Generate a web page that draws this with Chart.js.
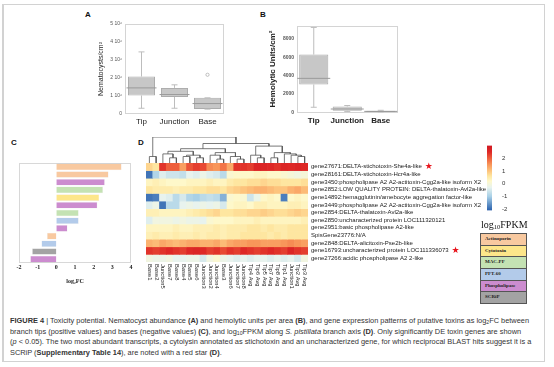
<!DOCTYPE html>
<html>
<head>
<meta charset="utf-8">
<script src="https://cdn.jsdelivr.net/npm/chart.js@4.4.1/dist/chart.umd.min.js"></script>
<style>
body { margin: 0; background: #fff; font-family: "Liberation Sans", Arial, sans-serif; }
#fig { position: relative; width: 554px; height: 367px; overflow: hidden; }
.frame { position: absolute; left: 2px; top: 4px; width: 540px; height: 356px; border: 1px solid #d2d2d2; border-left: 2px solid #d2d2d2; }
canvas { position: absolute; }
.pl { position: absolute; font-weight: bold; font-size: 8px; color: #111; }
.fpkm { position: absolute; left: 481px; top: 219px; font-family: "Liberation Serif", serif; font-size: 10px; color: #111; }
.fpkm sub { font-size: 65%; vertical-align: -0.15em; line-height: 0; }
.leg { position: absolute; left: 480px; top: 233px; width: 47px; }
.leg div { height: 10.7px; border: 1px solid #555; border-bottom: none; font-family: "Liberation Serif", serif; font-weight: bold; font-size: 5px; line-height: 10.7px; padding-left: 4px; color: #222; }
.leg div:last-child { border-bottom: 1px solid #555; }
.cap { position: absolute; left: 10px; top: 316px; font-size: 7.4px; line-height: 10.6px; color: #333; white-space: nowrap; }
.cap sub { font-size: 70%; vertical-align: -0.2em; line-height: 0; }
</style>
</head>
<body>
<div id="fig">
  <div class="frame"></div>
  <div class="pl" style="left:85px;top:10px">A</div>
  <div class="pl" style="left:260px;top:10px">B</div>
  <div class="pl" style="left:11px;top:138px">C</div>
  <div class="pl" style="left:138px;top:138px">D</div>

  <canvas id="cA" width="143" height="122" style="left:97px;top:8px"></canvas>
  <canvas id="cB" width="147" height="122" style="left:268px;top:8px"></canvas>
  <canvas id="cC" width="130" height="135" style="left:5px;top:150px"></canvas>
  <canvas id="cDen" width="180" height="32" style="left:140px;top:132px"></canvas>
  <canvas id="cD" width="352" height="155" style="left:140px;top:155px"></canvas>
  <canvas id="cBar" width="36" height="92" style="left:478px;top:132px"></canvas>

  <div class="fpkm">log<sub>10</sub>FPKM</div>
  <div class="leg" id="leg"></div>

  <div class="cap">
<b>FIGURE 4</b> | Toxicity potential. Nematocyst abundance <b>(A)</b> and hemolytic units per area <b>(B)</b>, and gene expression patterns of putative toxins as log<sub>2</sub>FC between<br>
branch tips (positive values) and bases (negative values) <b>(C)</b>, and log<sub>10</sub>FPKM along <i>S. pistillata</i> branch axis <b>(D)</b>. Only significantly DE toxin genes are shown<br>
(<i>p</i> &lt; 0.05). The two most abundant transcripts, a cytolysin annotated as stichotoxin and an uncharacterized gene, for which reciprocal BLAST hits suggest it is a<br>
SCRiP (<b>Supplementary Table 14</b>), are noted with a red star <b>(D)</b>.
  </div>
</div>

<script>
// ---- data ----
const boxCats = ['Tip', 'Junction', 'Base'];
// [min, q1, median, q3, max]
const nemaStats = [
  [0.32e6, 1.03e6, 1.45e6, 2.08e6, 3.45e6],
  [0.32e6, 0.95e6, 1.08e6, 1.45e6, 1.62e6],
  [0.27e6, 0.28e6, 0.58e6, 0.90e6, 0.90e6]
];
const nemaOutliers = [[], [], [2.18e6]];
const nemaTicks = [0, 1e6, 2e6, 3e6, 4e6, 5e6];

const hemoStats = [
  [570, 3050, 3710, 6290, 9240],
  [100, 190, 380, 650, 760],
  [40, 60, 120, 200, 240]
];
const hemoTicks = [0, 2000, 4000, 6000, 8000];

const families = ['Actinoporin', 'Cytotoxin', 'MAC-PF', 'PFT-60', 'Phospholipase', 'SCRiP'];
const familyColors = ['#f8c9a0', '#fde68a', '#c4e2b3', '#b3cbea', '#cc8ccf', '#a3a3a3'];

const fcValues = [3.5, 2.8, 2.6, 2.5, 2.3, 2.2, 1.2, 1.2, 0.6, -0.5, -0.8, -1.3, -1.4];
const fcFamily = [0, 0, 4, 2, 1, 4, 2, 3, 4, 0, 3, 5, 4];
const fcTicks = [-2, -1, 0, 1, 2, 3, 4];

const columns = ['Base1', 'Base2', 'Junction5', 'Base7', 'Base8', 'Base4', 'Base5', 'Base6',
  'Junction3', 'Junction2', 'Junction4', 'Base3', 'Junction6', 'Junction7', 'Junction8',
  'Tip4 Avg', 'Tip6 Avg', 'Tip5 Avg', 'Tip7 Avg', 'Tip8 Avg', 'Tip1 Avg', 'Junction1', 'Tip2 Avg', 'Tip3 Avg'];

const genes = [
  'gene27671:DELTA-stichotoxin-She4a-like',
  'gene28161:DELTA-stichotoxin-Hcr4a-like',
  'gene3450:phospholipase A2 A2-actitoxin-Cgg2a-like isoform X2',
  'gene2852:LOW QUALITY PROTEIN: DELTA-thalatoxin-Avl2a-like',
  'gene14892:hemagglutinin/amebocyte aggregation factor-like',
  'gene3449:phospholipase A2 A2-actitoxin-Cgg2a-like isoform X2',
  'gene2854:DELTA-thalatoxin-Avl2a-like',
  'gene2850:uncharacterized protein LOC111320121',
  'gene2951:basic phospholipase A2-like',
  'SpisGene23776:N/A',
  'gene2848:DELTA-alicitoxin-Pse2b-like',
  'gene16793:uncharacterized protein LOC111336073',
  'gene27266:acidic phospholipase A2 2-like'
];
const starred = [0, 11];

// log10 FPKM, one row per gene, one value per column
const expr = [
  [0.8, 0.6, 2.4, 2.0, 2.0, 1.4, 2.1, 2.3, 2.2, 1.6, 1.5, 1.8, 1.3, 2.4, 2.4, 2.3, 2.6, 2.6, 2.5, 2.4, 2.6, 2.5, 2.6, 2.5],
  [-1.9, -0.9, -0.4, -0.6, -0.6, -0.7, -0.3, -0.4, -0.2, -0.4, -0.5, -0.8, 0.1, 0.2, 0.2, 0.2, 0.3, 0.3, 0.2, 0.2, 0.1, 0.0, -0.1, 0.0],
  [0.3, 0.4, 0.3, 0.2, 0.2, 0.2, 0.3, 0.3, 0.3, 0.4, 0.3, 0.3, 0.5, 0.6, 0.6, 0.7, 0.7, 0.8, 0.7, 0.7, 0.6, 0.6, 0.6, 0.7],
  [0.6, 0.5, 0.5, 0.5, 0.4, 0.5, 0.5, 0.6, 0.6, 0.7, 0.7, 0.6, 0.8, 0.9, 1.0, 1.1, 1.2, 1.2, 1.1, 1.0, 1.0, 1.2, 1.3, 1.1],
  [-1.9, -1.8, -0.3, -0.4, -0.8, -0.5, -0.9, -1.0, -0.8, -0.7, -0.8, -1.3, 0.1, 0.2, 0.1, -0.6, -0.2, 0.2, 0.3, 0.2, -1.8, 0.2, 0.3, 0.2],
  [-0.4, -0.2, -1.9, -0.8, -0.8, -0.3, -0.2, -0.3, -0.2, -0.3, -0.2, -0.5, 0.2, 0.3, 0.3, 0.2, 0.4, 0.4, 0.3, 0.3, 0.3, 0.4, 0.4, 0.3],
  [0.4, 0.4, 0.3, 0.3, 0.3, 0.3, 0.4, 0.5, 0.6, 0.7, 0.8, 0.6, 0.6, 0.7, 0.7, 0.8, 0.8, 0.9, 0.8, 0.7, 0.7, 0.8, 0.9, 0.8],
  [-0.4, -0.1, -0.1, -0.1, -0.2, -0.1, -0.2, -0.2, -0.3, 0.1, 0.2, 0.2, 0.2, 0.3, 0.3, 0.3, 0.4, 0.3, 0.3, 0.3, 0.3, 0.3, 0.3, 0.4],
  [0.3, 0.3, 0.3, 0.3, 0.4, 0.3, 0.3, 0.4, 0.4, 0.4, 0.5, 0.4, 0.5, 0.5, 0.5, 0.6, 0.6, 0.5, 0.6, 0.5, 0.5, 0.6, 0.6, 0.6],
  [0.4, 0.5, 0.4, 0.4, 0.5, 0.4, 0.4, 0.5, 0.4, 0.5, 0.5, 0.4, 0.5, 0.5, 0.6, 0.6, 0.6, 0.6, 0.5, 0.6, 0.5, 0.6, 0.6, 0.6],
  [1.2, 1.1, 1.3, 1.2, 1.1, 1.2, 1.3, 1.3, 1.2, 1.2, 1.3, 1.1, 1.3, 1.4, 1.4, 1.5, 1.5, 1.4, 1.4, 1.4, 1.5, 1.6, 1.5, 1.4],
  [2.4, 2.3, 2.4, 2.5, 2.4, 2.3, 2.5, 2.6, 2.5, 2.3, 2.4, 2.2, 2.4, 2.3, 2.5, 2.4, 2.3, 2.4, 2.5, 2.4, 2.3, 2.6, 2.4, 2.3],
  [-0.1, -0.2, -0.2, -0.1, -0.3, -0.3, -0.2, -0.2, -0.5, -0.1, 0.1, -0.2, -0.3, -0.4, -0.3, -0.4, -0.3, -0.3, -0.4, -0.3, -0.4, -0.3, -0.5, -0.1]
];

// column dendrogram: leaves are column indices, h = merge height
const dendro = {h: 10, c: [
  {h: 2.5, c: [0, 1]},
  {h: 7.5, c: [
    {h: 5.5, c: [
      {h: 4.5, c: [{h: 3.5, c: [2, {h: 2, c: [3, 4]}]}, {h: 3, c: [{h: 2.5, c: [5, 6]}, {h: 2, c: [7, 8]}]}]},
      {h: 4, c: [{h: 3, c: [9, {h: 1.5, c: [10, 11]}]}, {h: 2.5, c: [12, {h: 1.5, c: [13, 14]}]}]}
    ]},
    {h: 6.5, c: [
      {h: 3, c: [15, {h: 2, c: [16, 17]}]},
      {h: 4, c: [{h: 2, c: [18, 19]}, {h: 3.5, c: [20, {h: 3, c: [21, {h: 2.5, c: [22, 23]}]}]}]}
    ]}
  ]}
]};

const cbMin = -2.1, cbMax = 3.0;
const cbTicks = [-2, -1, 0, 1, 2];

// ---- helpers ----
Chart.defaults.font.family = '"Liberation Sans", Arial, sans-serif';
Chart.defaults.animation = false;
Chart.defaults.plugins.legend.display = false;
Chart.defaults.plugins.tooltip.enabled = false;

const heatStops = [
  [-2.1, [45, 95, 170]], [-2, [52, 106, 178]], [-1, [168, 208, 231]], [-0.3, [232, 243, 238]],
  [0.2, [254, 248, 202]], [0.6, [254, 230, 160]], [1, [253, 196, 125]], [1.5, [248, 150, 90]],
  [2, [238, 95, 60]], [2.5, [222, 40, 38]], [3, [208, 24, 34]]
];
function heatColor(v) {
  if (v <= heatStops[0][0]) return 'rgb(' + heatStops[0][1].join(',') + ')';
  for (let i = 1; i < heatStops.length; i++) {
    const [v1, c1] = heatStops[i];
    if (v <= v1) {
      const [v0, c0] = heatStops[i - 1];
      const t = (v - v0) / (v1 - v0);
      return 'rgb(' + c0.map((a, k) => Math.round(a + (c1[k] - a) * t)).join(',') + ')';
    }
  }
  return 'rgb(' + heatStops[heatStops.length - 1][1].join(',') + ')';
}

const frameBox = {
  id: 'frameBox',
  beforeDatasetsDraw(c, a, o) {
    const {left, top, right, bottom} = c.chartArea;
    const ctx = c.ctx;
    ctx.save();
    ctx.strokeStyle = o.color || '#d0d0d0';
    ctx.lineWidth = 1;
    ctx.strokeRect(Math.round(left) + 0.5, Math.round(top) + 0.5, Math.round(right - left) - 1, Math.round(bottom - top) - 1);
    ctx.restore();
  }
};

function boxChart(id, stats, outliers, ticks, tickFmt, title, titleFont, yMax, yWidth, boxPct, medR) {
  const whisk = [], caps = [], meds = [], outs = [];
  boxCats.forEach((c, i) => {
    const s = stats[i];
    whisk.push({x: c, y: s[0]}, {x: c, y: s[1]}, {x: c, y: null}, {x: c, y: s[3]}, {x: c, y: s[4]}, {x: c, y: null});
    caps.push({x: c, y: s[0]}, {x: c, y: s[4]});
    meds.push({x: c, y: s[2]});
    outliers[i].forEach(v => outs.push({x: c, y: v}));
  });
  return new Chart(document.getElementById(id), {
    type: 'bar',
    data: {
      labels: boxCats,
      datasets: [
        {type: 'line', data: outs, showLine: false, pointRadius: 1.6, pointBorderColor: '#b0b0b0', pointBackgroundColor: '#fff', pointBorderWidth: 0.8, order: 0},
        {type: 'line', data: meds, showLine: false, pointStyle: 'line', pointRadius: medR, pointBorderColor: '#9a9a9a', pointBorderWidth: 1, order: 1},
        {type: 'line', data: caps, showLine: false, pointStyle: 'line', pointRadius: 3, pointBorderColor: '#bdbdbd', pointBorderWidth: 1, order: 2},
        {type: 'line', data: whisk, spanGaps: false, borderColor: '#bdbdbd', borderWidth: 1, pointRadius: 0, order: 3},
        {data: stats.map(s => [s[1], s[3]]), backgroundColor: '#c7c7c7', borderColor: '#ababab', borderWidth: 1,
          borderSkipped: false, barPercentage: boxPct, categoryPercentage: 1, order: 4}
      ]
    },
    options: {
      responsive: false,
      layout: {padding: {top: 6, right: 5, left: 0, bottom: 0}},
      plugins: {frameBox: {color: '#d4d4d4'}},
      scales: {
        x: {grid: {display: false, drawTicks: false}, border: {display: false},
          ticks: {font: {size: 8, weight: titleFont.weight}, color: '#222', padding: 3,
            minRotation: 0, maxRotation: 0, autoSkip: false},
          afterFit: s => { s.height = 16; }},
        y: {min: 0, max: yMax,
          afterBuildTicks: s => { s.ticks = ticks.map(v => ({value: v})); },
          grid: {display: false, drawTicks: false}, border: {display: false},
          ticks: {callback: tickFmt, font: {size: 5, weight: titleFont.weight}, color: '#555', padding: 3},
          title: {display: true, text: title, font: titleFont, color: '#222', padding: 0},
          afterFit: s => { s.width = yWidth; }}
      }
    },
    plugins: [frameBox]
  });
}

// ---- A ----
boxChart('cA', nemaStats, nemaOutliers, nemaTicks,
  v => v === 0 ? '0' : (v / 1e6) + ' 10\u2076', 'Nematocysts/cm\u00b2', {size: 7}, 5e6, 28, 0.82, 15);

// ---- B ----
boxChart('cB', hemoStats, [[], [], []], hemoTicks,
  v => String(v), 'Hemolytic Units/cm\u00b2', {size: 8, weight: 'bold'}, 9450, 29, 0.87, 16.5);

// ---- C ----
new Chart(document.getElementById('cC'), {
  type: 'bar',
  data: {
    labels: fcValues.map((v, i) => 'g' + i),
    datasets: [{
      data: fcValues,
      backgroundColor: fcFamily.map(f => familyColors[f]),
      borderColor: 'rgba(0,0,0,0.08)', borderWidth: 0.5,
      barPercentage: 0.86, categoryPercentage: 1
    }]
  },
  options: {
    responsive: false,
    indexAxis: 'y',
    layout: {padding: {top: 13, right: 4, left: 14, bottom: 0}},
    plugins: {frameBox: {color: '#d8d8d8'}},
    scales: {
      y: {display: false},
      x: {min: -2, max: 4,
        afterBuildTicks: s => { s.ticks = fcTicks.map(v => ({value: v})); },
        grid: {display: false, drawTicks: false}, border: {display: false},
        ticks: {font: {family: '"Liberation Serif", serif', size: 6, weight: 'bold'}, color: '#222', padding: 1},
        title: {display: true, text: 'log\u2082FC', font: {family: '"Liberation Serif", serif', size: 6, weight: 'bold'}, color: '#222', padding: {top: 1, bottom: 0}},
        afterFit: s => { s.height = 22; }}
    }
  },
  plugins: [frameBox]
});

// ---- D: dendrogram ----
const dendroPts = [];
function place(node) {
  if (typeof node === 'number') return {x: node, y: 0};
  const a = place(node.c[0]), b = place(node.c[1]);
  dendroPts.push({x: a.x, y: a.y}, {x: a.x, y: node.h}, {x: b.x, y: node.h}, {x: b.x, y: b.y}, {x: b.x, y: null});
  return {x: (a.x + b.x) / 2, y: node.h};
}
place(dendro);

new Chart(document.getElementById('cDen'), {
  type: 'scatter',
  data: {datasets: [{data: dendroPts, showLine: true, spanGaps: false, borderColor: '#555', borderWidth: 0.8, pointRadius: 0}]},
  options: {
    responsive: false,
    layout: {padding: {left: 6, right: 12, top: 5, bottom: 1}},
    scales: {
      x: {type: 'linear', min: -0.5, max: columns.length - 0.5, display: false},
      y: {type: 'linear', min: 0, max: 10, display: false}
    }
  }
});

// ---- D: heatmap ----
const heatLabels = {
  id: 'heatLabels',
  afterDraw(c) {
    const ctx = c.ctx, xs = c.scales.x, ys = c.scales.y;
    ctx.save();
    ctx.font = '5.8px "Liberation Sans", Arial, sans-serif';
    ctx.fillStyle = '#222';
    ctx.textAlign = 'left';
    ctx.textBaseline = 'middle';
    const y0 = c.chartArea.bottom + 2;
    columns.forEach((lab, i) => {
      ctx.save();
      ctx.translate(xs.getPixelForValue(i), y0);
      ctx.rotate(Math.PI / 2);
      ctx.fillText(lab, 0, 0);
      ctx.restore();
    });
    ctx.font = '6px "Liberation Sans", Arial, sans-serif';
    starred.forEach(r => {
      const w = ctx.measureText(genes[r]).width;
      ctx.save();
      ctx.fillStyle = '#e8141c';
      ctx.font = '9px "DejaVu Sans", sans-serif';
      ctx.textBaseline = 'middle';
      ctx.fillText('\u2605', ys.left + 3 + w + 3, ys.getPixelForValue(r + 0.5));
      ctx.restore();
    });
    ctx.restore();
  }
};

new Chart(document.getElementById('cD'), {
  type: 'bar',
  data: {
    labels: columns,
    datasets: genes.map((g, r) => ({
      data: columns.map(() => [r, r + 1]),
      backgroundColor: expr[r].map(heatColor),
      borderWidth: 0, grouped: false,
      barPercentage: 1, categoryPercentage: 1
    }))
  },
  options: {
    responsive: false,
    layout: {padding: {left: 6, top: 8, right: 0, bottom: 0}},
    scales: {
      x: {grid: {display: false, drawTicks: false}, border: {display: false}, ticks: {display: false},
        afterFit: s => { s.height = 48; }},
      y: {position: 'right', min: 0, max: genes.length, reverse: true,
        afterBuildTicks: s => { s.ticks = genes.map((g, i) => ({value: i + 0.5})); },
        grid: {display: false, drawTicks: false}, border: {display: false},
        ticks: {autoSkip: false, callback: v => genes[Math.floor(v)], font: {size: 6}, color: '#222', padding: 3},
        afterFit: s => { s.width = 184; }}
    }
  },
  plugins: [heatLabels]
});

// ---- colour bar ----
new Chart(document.getElementById('cBar'), {
  type: 'bar',
  data: {
    labels: [''],
    datasets: [{
      data: [[cbMin, cbMax]],
      backgroundColor: (ctx) => {
        const c = ctx.chart;
        if (!c.chartArea) return '#ccc';
        const y = c.scales.y;
        const g = c.ctx.createLinearGradient(0, y.getPixelForValue(cbMin), 0, y.getPixelForValue(cbMax));
        heatStops.forEach(([v, col]) => {
          const t = Math.min(1, Math.max(0, (v - cbMin) / (cbMax - cbMin)));
          g.addColorStop(t, 'rgb(' + col.join(',') + ')');
        });
        return g;
      },
      borderWidth: 0, barPercentage: 1, categoryPercentage: 1
    }]
  },
  options: {
    responsive: false,
    layout: {padding: {left: 9, top: 7, bottom: 6, right: 0}},
    scales: {
      x: {display: false},
      y: {position: 'right', min: cbMin, max: cbMax,
        afterBuildTicks: s => { s.ticks = cbTicks.map(v => ({value: v})); },
        grid: {display: false, drawTicks: false}, border: {display: false},
        ticks: {font: {size: 6}, color: '#333', padding: 10},
        afterFit: s => { s.width = 22; }}
    }
  }
});

// ---- family legend ----
const leg = document.getElementById('leg');
families.forEach((f, i) => {
  const d = document.createElement('div');
  d.textContent = f;
  d.style.background = familyColors[i];
  leg.appendChild(d);
});
</script>
</body>
</html>
